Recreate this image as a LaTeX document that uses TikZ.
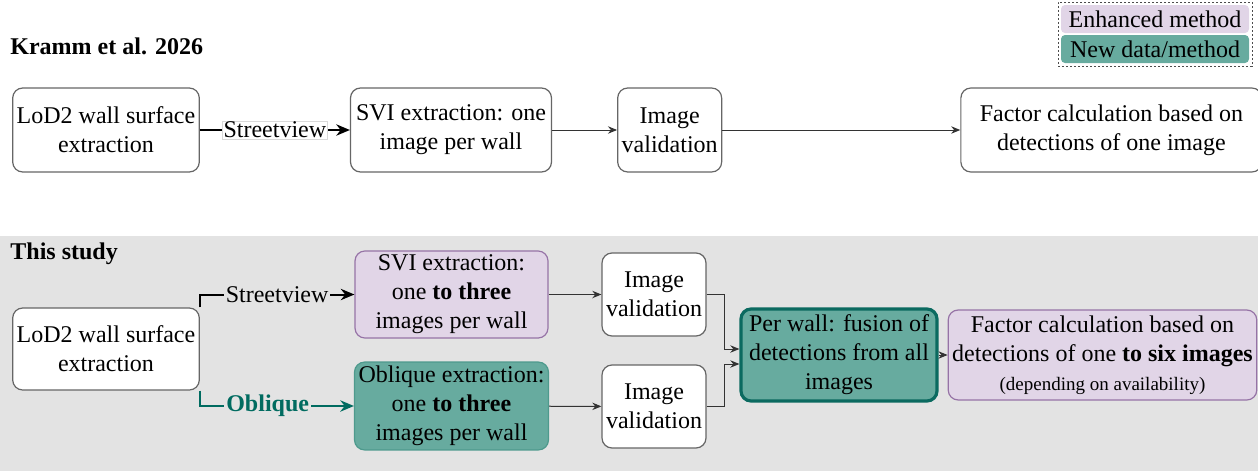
\documentclass[tikz,border=0pt]{standalone}
\usepackage{fontspec}
\setmainfont{Liberation Serif}
\usetikzlibrary{arrows.meta,positioning,fit,backgrounds}
\definecolor{bandgray}{HTML}{E3E3E3}
\definecolor{enhfill}{HTML}{E1D5E7}
\definecolor{enhdraw}{HTML}{9673A6}
\definecolor{newfill}{HTML}{67AB9F}
\definecolor{newdraw}{HTML}{4E9A8D}
\definecolor{fusedraw}{HTML}{0B6A60}
\definecolor{obltext}{HTML}{006B60}
\definecolor{linegray}{HTML}{333333}

\begin{document}
\begin{tikzpicture}[
    x=0.5pt, y=-0.5pt,
    font=\fontsize{12}{14.5}\selectfont,
    node distance=0mm,
    stage/.style={draw=black!60, rounded corners=5pt, fill=white, align=center, line width=0.6pt, inner sep=2pt},
    enhanced/.style={stage, fill=enhfill, draw=enhdraw},
    newdata/.style={stage, fill=newfill, draw=newdraw},
    heading/.style={font=\fontsize{12}{14.5}\selectfont\bfseries, anchor=west, inner sep=0pt},
    flow/.style={-{Stealth[length=1.6mm, width=1.3mm]}, draw=linegray, line width=0.5pt},
    route/.style={-{Stealth[length=2.4mm, width=2mm]}, line width=1pt}
]
\useasboundingbox (0,0) rectangle (1258,471);
\fill[bandgray] (0,236) rectangle (1258,471);

% legend
\node[enhanced, rounded corners=2pt, draw=none, minimum width=94pt, minimum height=14pt, inner sep=0pt] (leg1) at (1155,19) {Enhanced method};
\node[newdata, rounded corners=2pt, draw=none, minimum width=94pt, minimum height=14pt, inner sep=0pt] (leg2) at (1155,49) {New data/method};
\node[draw=black!70, dash pattern=on 1.2pt off 0.8pt, line width=0.5pt, inner sep=1.2pt, fit=(leg1)(leg2)] (legend) {};

% previous approach
\node[heading] (prev) at (10,46) {Kramm et al. 2026};
\node[stage, minimum width=91pt, minimum height=42pt] (a1) at (106,130) {LoD2 wall surface\\extraction};
\node[stage, minimum width=100.5pt, minimum height=42pt, right=75pt of a1] (s1) {SVI extraction: one\\image per wall};
\node[stage, minimum width=50.5pt, minimum height=42pt, right=32.5pt of s1] (v1) {Image\\validation};
\node[stage, minimum width=150.5pt, minimum height=42pt, right=119pt of v1] (f1) {Factor calculation based on\\detections of one image};

\draw[route] (a1) -- node[fill=white, draw=black!15, line width=0.3pt, inner sep=0.5pt] (svlabel) {Streetview} (s1);
\draw[flow] (s1) -- (v1);
\draw[flow] (v1) -- (f1);

% this study
\node[heading] (this) at (10,254) {This study};
\node[stage, minimum width=91pt, minimum height=41pt] (a2) at (106,349) {LoD2 wall surface\\extraction};
\node[enhanced, minimum width=96.5pt, minimum height=41.5pt] (s2) at (451.5,294.5) {SVI extraction:\\one \textbf{to three}\\images per wall};
\node[newdata, minimum width=96.5pt, minimum height=42pt] (o2) at (451.5,406) {Oblique extraction:\\one \textbf{to three}\\images per wall};
\node[stage, minimum width=51pt, minimum height=41.5pt] (v2a) at (654,294.5) {Image\\validation};
\node[stage, minimum width=51pt, minimum height=41.5pt] (v2b) at (654,406.5) {Image\\validation};
\node[newdata, draw=fusedraw, line width=1.6pt, minimum width=98pt, minimum height=46pt] (pw) at (839,355) {Per wall: fusion of\\detections from all\\images};
\node[enhanced, minimum width=150.5pt, minimum height=45pt] (f2) at (1102.5,355) {Factor calculation based on\\detections of one \textbf{to six images}\\{\fontsize{9.5}{11}\selectfont (depending on availability)}};

\draw[route] (a2.north east) |- node[pos=0.75, fill=bandgray, inner sep=1pt] (svlabel2) {Streetview} (s2.west);
\draw[route, draw=obltext] (a2.south east) |- node[pos=0.72, fill=bandgray, inner sep=1pt, text=obltext, font=\fontsize{12}{14.5}\selectfont\bfseries] (obllabel) {Oblique} (o2.west);
\draw[flow] (s2) -- (v2a);
\draw[flow] (o2) -- (v2b);
\draw[flow] (v2a.east) -- ++(18,0) |- ([yshift=3pt]pw.west);
\draw[flow] (v2b.east) -- ++(18,0) |- ([yshift=-4.5pt]pw.west);
\draw[flow] (pw) -- (f2);
\end{tikzpicture}
\end{document}
